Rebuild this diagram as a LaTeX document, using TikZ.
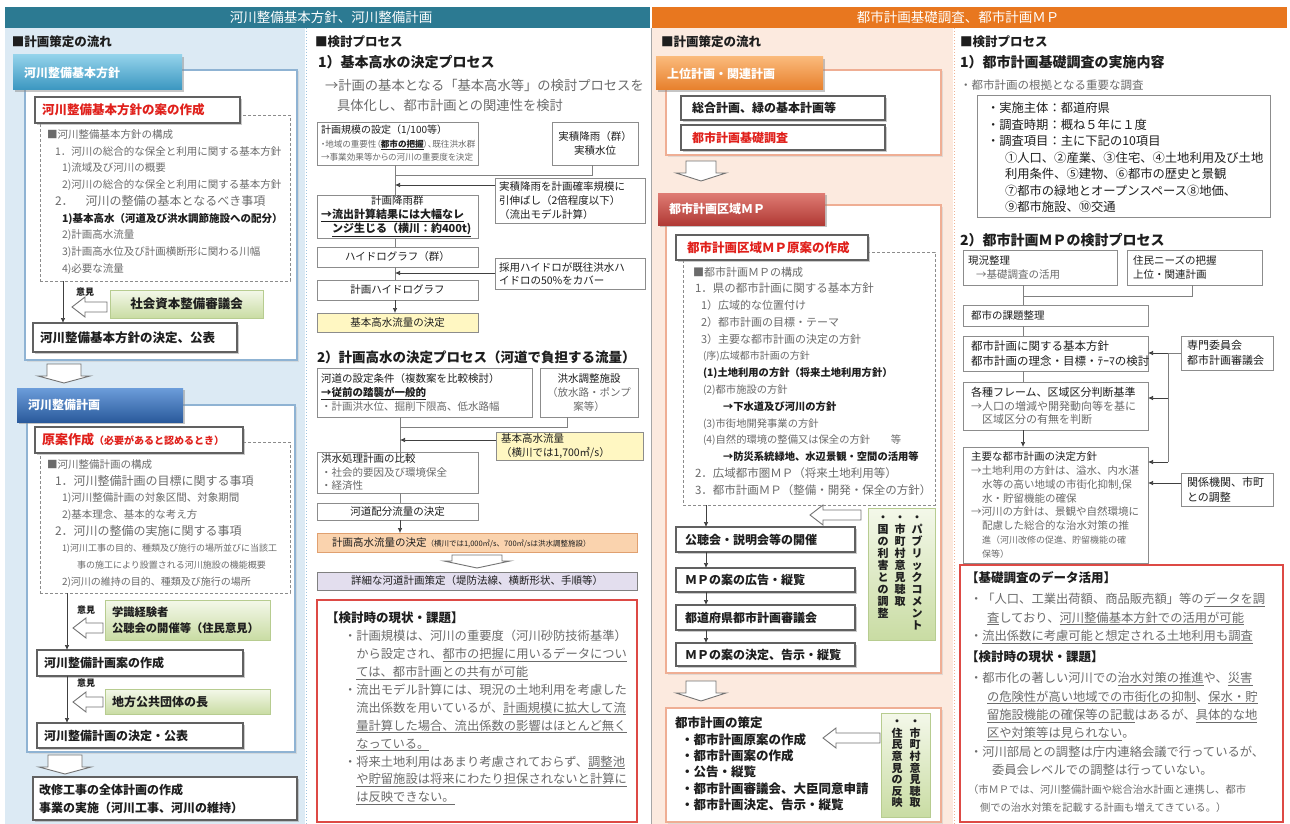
\documentclass[tikz,border=0pt]{standalone}
\usepackage{fontspec}
\setmainfont{Noto Sans CJK JP}
\usetikzlibrary{shadows,arrows.meta}
\definecolor{hdrL}{HTML}{2C7A92}
\definecolor{hdrR}{HTML}{E8771F}
\definecolor{bgL}{HTML}{DCEAF4}
\definecolor{bgR}{HTML}{FCEADF}
\definecolor{pnlL}{HTML}{8FB3D3}
\definecolor{pnlR}{HTML}{EFAE94}
\definecolor{txd}{HTML}{1E1E1E}
\definecolor{txg}{HTML}{6B6B6B}
\definecolor{rtx}{HTML}{E0201B}
\definecolor{grT}{HTML}{F4F8EA}
\definecolor{grB}{HTML}{C9DCA3}
\definecolor{grD}{HTML}{B7CC90}
\definecolor{yel}{HTML}{FFF7C2}
\definecolor{org}{HTML}{FAD3AE}
\definecolor{orgD}{HTML}{E0A070}
\definecolor{lav}{HTML}{E3DEEE}
\definecolor{redb}{HTML}{DD4A45}
\definecolor{tabAt}{HTML}{93D2EA}
\definecolor{tabAb}{HTML}{3A96C0}
\definecolor{tabBt}{HTML}{6C9DDA}
\definecolor{tabBb}{HTML}{2A5A9C}
\definecolor{tabCt}{HTML}{FAB97A}
\definecolor{tabCb}{HTML}{E77F2B}
\definecolor{tabDt}{HTML}{DF7C74}
\definecolor{tabDb}{HTML}{B13A35}
\definecolor{sepLc}{HTML}{9CC2DD}
\definecolor{sepRc}{HTML}{F0B394}
\newcommand{\fz}[2]{\fontsize{#1}{#2}\selectfont}
\newcommand{\pal}{\addfontfeatures{RawFeature=+palt}}
\newcommand{\udl}[1]{\underline{#1}}
\newcommand{\hla}[3]{\draw[harr] (#1,#3) -- (#1+13,#3-10) -- (#1+13,#3-5) -- (#2,#3-5) -- (#2,#3+5) -- (#1+13,#3+5) -- (#1+13,#3+10) -- cycle;}
\newcommand{\hda}[6]{\draw[harr] (#1-#3,#2) -- (#1+#3,#2) -- (#1+#3,#2+#5) -- (#1+#4,#2+#5) -- (#1,#2+#5+#6) -- (#1-#4,#2+#5) -- (#1-#3,#2+#5) -- cycle;}
\tikzset{
  every node/.style={inner sep=0pt, outer sep=0pt},
  tx/.style={anchor=west, align=left, text=txd},
  gx/.style={anchor=west, align=left, text=txg},
  box/.style={anchor=north west, draw=black!45, fill=white, line width=0.7pt, text=txd},
  sbox/.style={anchor=north west, draw=black!62, fill=white, line width=1.2pt, text=txd,
     drop shadow={shadow xshift=2pt, shadow yshift=-2pt, fill=black!40}},
  gbox/.style={anchor=north west, draw=grD, top color=grT, bottom color=grB, line width=0.6pt, text=txd},
  tabx/.style={anchor=north west, align=left, text=white, font=\fz{12}{12}\bfseries, inner xsep=11pt,
     drop shadow={shadow xshift=2pt, shadow yshift=-2pt, fill=black!45}},
  pnlA/.style={anchor=north west, draw=pnlL, fill=white, line width=1.4pt,
     drop shadow={shadow xshift=1.5pt, shadow yshift=-1.5pt, fill=black!22}},
  pnlC/.style={anchor=north west, draw=pnlR, fill=white, line width=1.4pt,
     drop shadow={shadow xshift=1.5pt, shadow yshift=-1.5pt, fill=black!22}},
  dbox/.style={anchor=north west, draw=black!45, dash pattern=on 3pt off 2pt, line width=0.7pt},
  rbox/.style={anchor=north west, draw=redb, fill=white, line width=2pt},
  arr/.style={draw=black!75, line width=0.7pt, -{Latex[length=5pt,width=4.5pt]}},
  ln/.style={draw=black!50, line width=0.7pt},
  harr/.style={draw=black!55, fill=white, line width=0.9pt},
}
\begin{document}
\begin{tikzpicture}[x=1pt,y=-1pt]
\useasboundingbox (0,0) rectangle (1290,824);
\fill[white] (0,0) rectangle (1290,824);
% backgrounds
\fill[bgL] (5,28) rectangle (305,824);
\fill[bgR] (652,28) rectangle (953,824);
\draw[sepLc, dotted, line width=1pt] (306,28) -- (306,824);
\draw[sepRc, dotted, line width=1pt] (954,28) -- (954,824);
\draw[black!35, line width=0.6pt] (651,28) -- (651,824);
% headers
\fill[hdrL] (5,7) rectangle (650,28);
\fill[hdrR] (652,7) rectangle (1287,28);
\node[text=white, font=\fz{13.5}{13.5}] (hL) at (331,17.5) {河川整備基本方針、河川整備計画};
\node[text=white, font=\fz{13.5}{13.5}] (hR) at (958,17.5) {都市計画基礎調査、都市計画ＭＰ};

% ===== Column 1 =====
\node[tx, font=\fz{12.5}{12.5}\bfseries] (c1h) at (12,42) {■計画策定の流れ};
\node[pnlA, minimum width=272, minimum height=290] (pA) at (25,70) {};
\node[tabx, top color=tabAt, bottom color=tabAb, minimum width=169, minimum height=35, text width=147] (tA) at (13,55) {河川整備基本方針};
\node[dbox, minimum width=250, minimum height=166] (dA) at (40,115) {};
\node[sbox, minimum width=205, minimum height=26, text width=191, inner xsep=7pt, align=left, text=rtx, font=\fz{12.5}{12.5}\bfseries] (rA) at (35,97) {河川整備基本方針の案の作成};
\node[gx, font=\fz{10.5}{16.75}] (lA) at (47,202) {■河川整備基本方針の構成\\
\hspace*{8pt}1．河川の総合的な保全と利用に関する基本方針\\
\hspace*{15pt}1)流域及び河川の概要\\
\hspace*{15pt}2)河川の総合的な保全と利用に関する基本方針\\
\hspace*{8pt}{\fz{12}{16.75}2．　河川の整備の基本となるべき事項}\\
\hspace*{15pt}{\color{txd}\bfseries 1)基本高水（河道及び洪水調節施設への配分）}\\
\hspace*{15pt}2)計画高水流量\\
\hspace*{15pt}3)計画高水位及び計画横断形に関わる川幅\\
\hspace*{15pt}4)必要な流量};
\coordinate (xA) at (63,0);
\node[sbox, minimum width=204, minimum height=29, text width=190, inner xsep=7pt, align=left, font=\fz{12.5}{12.5}\bfseries] (fA) at (33,323) {河川整備基本方針の決定、公表};
\draw[arr] (dA.south -| xA) -- (fA.north -| xA);
\node[tx, font=\fz{9}{9}\bfseries] (oA) at (76,292) {意見};
\hla{72}{107}{307}
\node[gbox, minimum width=153, minimum height=28, font=\fz{12.5}{12.5}\bfseries] (gA) at (110,290) {社会資本整備審議会};
\hda{64}{364}{17}{26}{12}{7}

\node[pnlA, minimum width=268, minimum height=347] (pB) at (27,405) {};
\node[tabx, top color=tabBt, bottom color=tabBb, minimum width=166, minimum height=34, text width=144] (tB) at (17,388) {河川整備計画};
\node[dbox, minimum width=250, minimum height=151] (dB) at (40,442) {};
\node[sbox, minimum width=208, minimum height=26, text width=194, inner xsep=7pt, align=left, text=rtx, font=\fz{13}{13}\bfseries] (rB) at (35,427) {原案作成{\fz{10}{10}（必要があると認めるとき）}};
\node[gx, font=\fz{10.5}{16.7}] (lB) at (47,523.5) {■河川整備計画の構成\\
\hspace*{8pt}{\fz{12}{16.7}1．河川整備計画の目標に関する事項}\\
\hspace*{15pt}1)河川整備計画の対象区間、対象期間\\
\hspace*{15pt}2)基本理念、基本的な考え方\\
\hspace*{8pt}{\fz{12}{16.7}2．河川の整備の実施に関する事項}\\
\hspace*{15pt}{\fz{9}{16.7}1)河川工事の目的、種類及び施行の場所並びに当該工}\\
\hspace*{30pt}{\fz{9}{16.7}事の施工により設置される河川施設の機能概要}\\
\hspace*{15pt}{\fz{10}{16.7}2)河川の維持の目的、種類及び施行の場所}};
\coordinate (xB) at (67,0);
\node[sbox, minimum width=206, minimum height=26, text width=192, inner xsep=7pt, align=left, font=\fz{12}{12}\bfseries] (fB1) at (37,650) {河川整備計画案の作成};
\node[sbox, minimum width=206, minimum height=25, text width=192, inner xsep=7pt, align=left, font=\fz{12}{12}\bfseries] (fB2) at (37,723) {河川整備計画の決定・公表};
\draw[arr] (dB.south -| xB) -- (fB1.north -| xB);
\draw[arr] (fB1.south -| xB) -- (fB2.north -| xB);
\node[tx, font=\fz{9}{9}\bfseries] (oB1) at (77,610) {意見};
\node[tx, font=\fz{9}{9}\bfseries] (oB2) at (77,683) {意見};
\hla{73}{103}{628}
\hla{73}{103}{702}
\node[gbox, minimum width=165, minimum height=40, text width=151, inner xsep=7pt, align=left, font=\fz{11.3}{16}\bfseries] (gB1) at (105,600) {学識経験者\\公聴会の開催等（住民意見）};
\node[gbox, minimum width=165, minimum height=25, text width=151, inner xsep=7pt, align=left, font=\fz{12}{12}\bfseries] (gB2) at (105,689) {地方公共団体の長};
\hda{65}{755}{17}{26}{12}{7}
\node[sbox, minimum width=264, minimum height=43, text width=252, inner xsep=6pt, align=left, font=\fz{12}{18}\bfseries] (fC) at (33,777) {改修工事の全体計画の作成\\事業の実施（河川工事、河川の維持）};

% ===== Column 2 =====
\node[tx, font=\fz{12.5}{12.5}\bfseries] (c2h) at (315,42) {■検討プロセス};
\node[tx, font=\fz{14}{14}\bfseries] (c2s1) at (318,62) {1）基本高水の決定プロセス};
\node[gx, font=\fz{13.3}{20}] (c2p) at (325,95) {→計画の基本となる「基本高水等」の検討プロセスを\\\hspace*{12pt}具体化し、都市計画との関連性を検討};
\node[box, minimum width=161, minimum height=43, text width=153, inner xsep=4pt, align=left, font=\fz{8.6}{13.5}] (b21) at (317,122) {{\color{txd}\fz{10}{13.5}計画規模の設定（1/100等）}\\{\color{txg}\pal ・地域の重要性（{\color{txd}\bfseries\udl{都市の把握}}）、既往洪水群}\\{\color{txg}\pal →事業効果等からの河川の重要度を決定}};
\node[box, minimum width=86, minimum height=43, align=center, font=\fz{10.5}{14}] (b22) at (552,122) {実積降雨（群）\\実積水位};
\coordinate (j21) at (395,175);
\coordinate (j22) at (592,175);
\node[box, minimum width=161, minimum height=43, text width=153, inner xsep=4pt, align=left, font=\fz{10.5}{14}] (b23) at (317,195) {\hspace*{50pt}計画降雨群\\{\bfseries\fz{11}{14}\udl{→流出計算結果には大幅なレ}}\\\hspace*{11pt}{\bfseries\fz{11}{14}\udl{ンジ生じる（横川：約400t)}}};
\node[box, minimum width=150, minimum height=45, text width=142, inner xsep=4pt, align=left, font=\fz{10.5}{14}] (b24) at (495,178) {実積降雨を計画確率規模に\\引伸ばし（2倍程度以下）\\（流出モデル計算）};
\node[box, minimum width=161, minimum height=20, font=\fz{10.5}{10.5}] (b25) at (317,247) {ハイドログラフ（群）};
\node[box, minimum width=150, minimum height=31, text width=142, inner xsep=4pt, align=left, font=\fz{10.5}{13}] (b26) at (495,258) {採用ハイドロが既往洪水ハ\\イドロの50\%をカバー};
\node[box, minimum width=161, minimum height=20, font=\fz{10.5}{10.5}] (b27) at (317,280) {計画ハイドログラフ};
\node[box, fill=yel, minimum width=161, minimum height=19, font=\fz{10.5}{10.5}] (b28) at (317,313) {基本高水流量の決定};
\draw[ln] (b22.south -| j22) -- (j22) -- (j21);
\draw[ln] (b21.south -| j21) -- (b23.north -| j21);
\coordinate (a24) at (495,185);
\draw[arr] (a24) -- (a24 -| j21);
\draw[ln] (b23.south -| j21) -- (b25.north -| j21);
\draw[ln] (b25.south -| j21) -- (b27.north -| j21);
\coordinate (a26) at (495,273);
\draw[arr] (a26) -- (a26 -| j21);
\draw[arr] (b27.south -| j21) -- (b28.north -| j21);

\node[tx, font=\fz{13.5}{13.5}\bfseries] (c2s2) at (317,357) {2）計画高水の決定プロセス（河道で負担する流量）};
\node[box, minimum width=215, minimum height=49, text width=207, inner xsep=4pt, align=left, font=\fz{10.5}{14}] (b31) at (317,368) {河道の設定条件（複数案を比較検討）\\{\bfseries\udl{→従前の踏襲が一般的}}\\{\color{txg}・計画洪水位、掘削下限高、低水路幅}};
\node[box, minimum width=98, minimum height=49, align=center, font=\fz{10.5}{14}] (b32) at (540,368) {洪水調整施設\\{\color{txg}（放水路・ポンプ}\\{\color{txg}案等）}};
\coordinate (j31) at (400,427);
\coordinate (j32) at (567,427);
\node[box, minimum width=161, minimum height=41, text width=153, inner xsep=4pt, align=left, font=\fz{10.5}{13.5}] (b33) at (317,452) {洪水処理計画の比較\\{\color{txg}・社会的要因及び環境保全}\\{\color{txg}・経済性}};
\node[box, fill=yel, minimum width=147, minimum height=28, text width=137, inner xsep=5pt, align=left, font=\fz{10.5}{14}] (b34) at (496,432) {基本高水流量\\（横川では1,700㎥/s）};
\node[box, minimum width=161, minimum height=17, font=\fz{10.5}{10.5}] (b35) at (317,503) {河道配分流量の決定};
\node[box, fill=org, draw=orgD, minimum width=320, minimum height=19, text width=290, inner xsep=15pt, align=left] (b36) at (317,533) {{\fz{10.5}{10.5}計画高水流量の決定}{\fz{7.5}{7.5}（横川では1,000㎥/s、700㎥/sは洪水調整施設）}};
\draw[ln] (b32.south -| j32) -- (j32) -- (j31);
\draw[ln] (b31.south -| j31) -- (b33.north -| j31);
\coordinate (a34) at (496,440);
\draw[arr] (a34) -- (a34 -| j31);
\draw[ln] (b33.south -| j31) -- (b35.north -| j31);
\draw[arr] (b35.south -| j31) -- (b36.north -| j31);
\hda{477}{555}{25}{33}{6}{7}
\node[box, fill=lav, draw=black!50, minimum width=320, minimum height=18, font=\fz{10.5}{10.5}] (b37) at (317,572) {詳細な河道計画策定（堤防法線、横断形状、手順等）};
\node[rbox, minimum width=320, minimum height=222] (R2) at (317,600) {};
\node[tx, font=\fz{12.5}{12.5}\bfseries] (h2) at (326,618) {【検討時の現状・課題】};
\node[gx, font=\fz{12.3}{17.9}] (l2) at (344,717.5) {・計画規模は、河川の重要度（河川砂防技術基準）\\
\hspace*{12.3pt}から設定され、\udl{都市の把握に用いるデータについ}\\
\hspace*{12.3pt}\udl{ては、都市計画との共有が可能}\\
・流出モデル計算には、現況の土地利用を考慮した\\
\hspace*{12.3pt}流出係数を用いているが、\udl{計画規模に拡大して流}\\
\hspace*{12.3pt}\udl{量計算した場合、流出係数の影響はほとんど無く}\\
\hspace*{12.3pt}\udl{なっている。}\\
・将来土地利用はあまり考慮されておらず、\udl{調整池}\\
\hspace*{12.3pt}\udl{や貯留施設は将来にわたり担保されないと計算に}\\
\hspace*{12.3pt}\udl{は反映できない。}};

% ===== Column 3 =====
\node[tx, font=\fz{12.5}{12.5}\bfseries] (c3h) at (661,42) {■計画策定の流れ};
\node[pnlC, minimum width=275, minimum height=85] (pC) at (666,70) {};
\node[tabx, top color=tabCt, bottom color=tabCb, minimum width=167, minimum height=33, text width=145] (tC) at (656,57) {上位計画・関連計画};
\node[sbox, minimum width=204, minimum height=24, text width=182, inner xsep=11pt, align=left, font=\fz{12}{12}\bfseries] (c1) at (681,96) {総合計画、緑の基本計画等};
\node[sbox, minimum width=204, minimum height=25, text width=182, inner xsep=11pt, align=left, text=rtx, font=\fz{12}{12}\bfseries] (c2) at (681,125) {都市計画基礎調査};
\hda{701}{161}{15}{25}{12}{8}
\node[pnlC, minimum width=275, minimum height=468] (pD) at (666,205) {};
\node[tabx, top color=tabDt, bottom color=tabDb, minimum width=167, minimum height=32, text width=145] (tD) at (658,193) {都市計画区域ＭＰ};
\node[dbox, minimum width=252, minimum height=253] (dD) at (683,252) {};
\node[sbox, minimum width=192, minimum height=25, text width=170, inner xsep=11pt, align=left, text=rtx, font=\fz{12.5}{12.5}\bfseries] (rD) at (676,235) {都市計画区域ＭＰ原案の作成};
\node[gx, font=\fz{11}{16.77}] (lD) at (693,381) {■都市計画ＭＰの構成\\
\hspace*{2pt}{\fz{11.5}{16.77}1．県の都市計画に関する基本方針}\\
\hspace*{8pt}1）広域的な位置付け\\
\hspace*{8pt}2）都市計画の目標・テーマ\\
\hspace*{8pt}3）主要な都市計画の決定の方針\\
\hspace*{10pt}{\fz{10}{16.77}(序)広域都市計画の方針}\\
\hspace*{10pt}{\color{txd}\bfseries\fz{10.3}{16.77}(1)土地利用の方針（将来土地利用方針）}\\
\hspace*{10pt}{\fz{10.3}{16.77}(2)都市施設の方針}\\
\hspace*{30pt}{\color{txd}\bfseries\fz{10.3}{16.77}→下水道及び河川の方針}\\
\hspace*{10pt}{\fz{10.3}{16.77}(3)市街地開発事業の方針}\\
\hspace*{10pt}{\fz{10.3}{16.77}(4)自然的環境の整備又は保全の方針　　等}\\
\hspace*{30pt}{\color{txd}\bfseries\fz{10.3}{16.77}→防災系統緑地、水辺景観・空間の活用等}\\
\hspace*{2pt}{\fz{11.5}{16.77}2．広域都市圏ＭＰ（将来土地利用等）}\\
\hspace*{2pt}{\fz{11.5}{16.77}3．都市計画ＭＰ（整備・開発・保全の方針）}};
\coordinate (xD) at (706,0);
\node[sbox, minimum width=179, minimum height=25, text width=161, inner xsep=9pt, align=left, font=\fz{12}{12}\bfseries] (e1) at (676,527) {公聴会・説明会等の開催};
\node[sbox, minimum width=179, minimum height=24, text width=161, inner xsep=9pt, align=left, font=\fz{12}{12}\bfseries] (e2) at (676,568) {ＭＰの案の広告・縦覧};
\node[sbox, minimum width=179, minimum height=25, text width=161, inner xsep=9pt, align=left, font=\fz{12}{12}\bfseries] (e3) at (676,605) {都道府県都市計画審議会};
\node[sbox, minimum width=179, minimum height=23, text width=161, inner xsep=9pt, align=left, font=\fz{12}{12}\bfseries] (e4) at (676,643) {ＭＰの案の決定、告示・縦覧};
\draw[arr] (dD.south -| xD) -- (e1.north -| xD);
\draw[arr] (e1.south -| xD) -- (e2.north -| xD);
\draw[arr] (e2.south -| xD) -- (e3.north -| xD);
\draw[arr] (e3.south -| xD) -- (e4.north -| xD);
\hla{810}{861}{515}
\node[gbox, minimum width=67, minimum height=132] (gD) at (868,508) {};
\node[anchor=north, align=center, text=txd, font=\fz{11}{12}\bfseries] (gD1) at (917,516) {・\\パ\\ブ\\リ\\ッ\\ク\\コ\\メ\\ン\\ト};
\node[anchor=north, align=center, text=txd, font=\fz{11}{12}\bfseries] (gD2) at (900,516) {・\\市\\町\\村\\意\\見\\聴\\取};
\node[anchor=north, align=center, text=txd, font=\fz{11}{12}\bfseries] (gD3) at (883,516) {・\\国\\の\\利\\害\\と\\の\\調\\整};
\hda{701}{681}{15}{25}{12}{8}
\node[pnlC, minimum width=275, minimum height=114] (fD) at (666,708) {};
\node[tx, font=\fz{12.5}{16.4}\bfseries] (lD2) at (675,764) {都市計画の策定\\
\hspace*{6pt}・都市計画原案の作成\\
\hspace*{6pt}・都市計画案の作成\\
\hspace*{6pt}・公告・縦覧\\
\hspace*{6pt}・都市計画審議会、大臣同意申請\\
\hspace*{6pt}・都市計画決定、告示・縦覧};
\hla{823}{880}{738}
\node[gbox, minimum width=49, minimum height=104] (gE) at (881,713) {};
\node[anchor=north, align=center, text=txd, font=\fz{11}{11.6}\bfseries] (gE1) at (915,720) {・\\市\\町\\村\\意\\見\\聴\\取};
\node[anchor=north, align=center, text=txd, font=\fz{11}{11.6}\bfseries] (gE2) at (897,720) {・\\住\\民\\意\\見\\の\\反\\映};

% ===== Column 4 =====
\node[tx, font=\fz{12.5}{12.5}\bfseries] (c4h) at (960,42) {■検討プロセス};
\node[tx, font=\fz{14}{14}\bfseries] (c4s1) at (960,62) {1）都市計画基礎調査の実施内容};
\node[gx, font=\fz{11.5}{11.5}] (c4p) at (960,85) {・都市計画の根拠となる重要な調査};
\node[box, minimum width=293, minimum height=122] (k1) at (977,95) {};
\node[tx, font=\fz{12.3}{16.5}] (lk1) at (987,157.5) {・実施主体：都道府県\\
・調査時期：概ね５年に１度\\
・調査項目：主に下記の10項目\\
\hspace*{18pt}①人口、②産業、③住宅、④土地利用及び土地\\
\hspace*{18pt}利用条件、⑤建物、⑥都市の歴史と景観\\
\hspace*{18pt}⑦都市の緑地とオープンスペース⑧地価、\\
\hspace*{18pt}⑨都市施設、⑩交通};
\node[tx, font=\fz{14}{14}\bfseries] (c4s2) at (960,240) {2）都市計画ＭＰの検討プロセス};
\node[box, minimum width=154, minimum height=35, text width=144, inner xsep=5pt, align=left, font=\fz{10.5}{14}] (m1) at (963,250) {現況整理\\{\color{txg}\hspace*{8pt}→基礎調査の活用}};
\node[box, minimum width=135, minimum height=35, text width=123, inner xsep=6pt, align=left, font=\fz{10.5}{14}] (m2) at (1127,250) {住民ニーズの把握\\上位・関連計画};
\coordinate (j41) at (1023,296);
\coordinate (j42) at (1192,296);
\node[box, minimum width=185, minimum height=21, text width=169, inner xsep=8pt, align=left, font=\fz{10.5}{10.5}] (m3) at (963,305) {都市の課題整理};
\node[box, minimum width=185, minimum height=35, text width=169, inner xsep=8pt, align=left, font=\fz{11.5}{15}] (m4) at (963,336) {都市計画に関する基本方針\\都市計画の理念・目標・ﾃｰﾏの検討};
\node[box, minimum width=92, minimum height=34, text width=80, inner xsep=6pt, align=left, font=\fz{11}{15}] (m5) at (1181,336) {専門委員会\\都市計画審議会};
\node[box, minimum width=185, minimum height=48, text width=169, inner xsep=8pt, align=left, font=\fz{11}{13.5}] (m6) at (963,382) {各種フレーム、区域区分判断基準\\{\color{txg}→人口の増減や開発動向等を基に}\\{\color{txg}\hspace*{11pt}区域区分の有無を判断}};
\node[box, minimum width=185, minimum height=116, text width=169, inner xsep=8pt, align=left, text=txg, font=\fz{10.5}{13.9}] (m7) at (963,447) {{\color{txd}主要な都市計画の決定方針}\\
→土地利用の方針は、溢水、内水湛\\
\hspace*{11pt}水等の高い地域の市街化抑制,保\\
\hspace*{11pt}水・貯留機能の確保\\
→河川の方針は、景観や自然環境に\\
\hspace*{11pt}配慮した総合的な治水対策の推\\
\hspace*{11pt}{\fz{9}{13.9}進（河川改修の促進、貯留機能の確}\\
\hspace*{11pt}{\fz{9}{13.9}保等）}};
\node[box, minimum width=92, minimum height=33, text width=80, inner xsep=6pt, align=left, font=\fz{11}{15}] (m8) at (1181,473) {関係機関、市町\\との調整};
\coordinate (x4) at (1023,0);
\draw[ln] (m2.south -| j42) -- (j42) -- (j41);
\draw[ln] (m1.south -| j41) -- (m3.north -| j41);
\draw[ln] (m3.south -| x4) -- (m4.north -| x4);
\draw[ln] (m4.south -| x4) -- (m6.north -| x4);
\draw[arr] (m6.south -| x4) -- (m7.north -| x4);
\coordinate (v1) at (1168,353);
\coordinate (v2) at (1168,398);
\coordinate (v3) at (1168,462);
\coordinate (v4) at (1181,483);
\draw[ln] (m5.west |- v1) -- (v1) -- (v3);
\draw[arr] (v1) -- (m4.east |- v1);
\draw[arr] (v2) -- (m6.east |- v2);
\draw[arr] (v3) -- (m7.east |- v3);
\draw[arr] (v4) -- (m7.east |- v4);
\node[rbox, minimum width=323, minimum height=257] (R4) at (960,565) {};
\node[tx, font=\fz{12.5}{12.5}\bfseries] (h4a) at (966,578) {【基礎調査のデータ活用】};
\node[gx, font=\fz{12.3}{18.5}] (l4a) at (970,618.5) {・「人口、工業出荷額、商品販売額」等の\udl{データを調}\\
\hspace*{17pt}\udl{査}しており、\udl{河川整備基本方針での活用が可能}\\
・\udl{流出係数に考慮可能と想定される土地利用も調査}};
\node[tx, font=\fz{12.5}{12.5}\bfseries] (h4b) at (966,657) {【検討時の現状・課題】};
\node[gx, font=\fz{12.3}{18.4}] (l4b) at (970,724) {・都市化の著しい河川での\udl{治水対策の推進}や、\udl{災害}\\
\hspace*{17pt}\udl{の危険性が高い地域での市街化の抑制}、\udl{保水・貯}\\
\hspace*{17pt}\udl{留施設機能の確保等の記載}はあるが、\udl{具体的な地}\\
\hspace*{17pt}\udl{区や対策等は見られない}。\\
・河川部局との調整は庁内連絡会議で行っているが、\\
\hspace*{22pt}委員会レベルでの調整は行っていない。};
\node[gx, font=\fz{10.3}{18}] (l4c) at (968,799) {（市ＭＰでは、河川整備計画や総合治水計画と連携し、都市\\
\hspace*{12pt}側での治水対策を記載する計画も増えてきている。）};
\end{tikzpicture}
\end{document}
